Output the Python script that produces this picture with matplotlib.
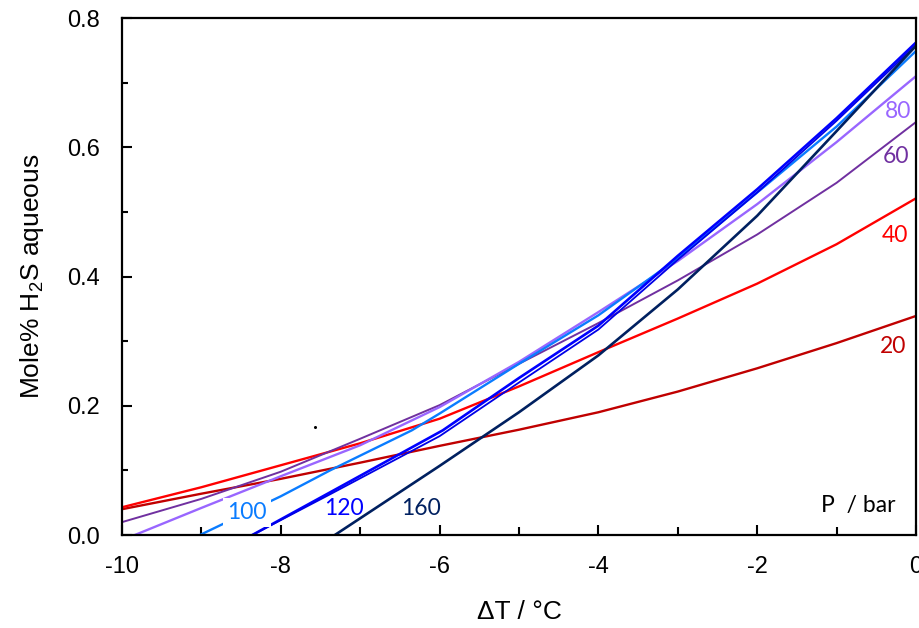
import numpy as np
import matplotlib.pyplot as plt

plt.rcParams['font.family'] = ['Liberation Sans', 'DejaVu Sans']
plt.rcParams['mathtext.default'] = 'regular'

# Mole% H2S in the aqueous phase vs. subcooling, one curve per pressure (bar)
dT = [-10, -9, -8, -7, -6, -5, -4, -3, -2, -1, 0]

x_20 = dT
y_20 = [0.040, 0.064, 0.087, 0.112, 0.138, 0.163, 0.190, 0.222, 0.258, 0.297, 0.339]

x_40 = dT
y_40 = [0.043, 0.074, 0.108, 0.142, 0.180, 0.230, 0.283, 0.335, 0.389, 0.450, 0.521]

x_60 = dT
y_60 = [0.020, 0.056, 0.098, 0.149, 0.201, 0.265, 0.328, 0.394, 0.465, 0.545, 0.639]

x_80 = dT
y_80 = [-0.008, 0.042, 0.091, 0.139, 0.198, 0.268, 0.345, 0.424, 0.512, 0.608, 0.710]

x_100 = [-9.02, -8, -7.38, -6.35, -6, -5, -4, -3, -2, -1, 0]
y_100 = [0.0, 0.060, 0.100, 0.162, 0.188, 0.265, 0.340, 0.428, 0.530, 0.632, 0.749]

x_120 = [-8.36, -7.38, -5.96, -5, -4, -3, -2, -1, 0]
y_120 = [0.0, 0.066, 0.162, 0.243, 0.324, 0.432, 0.535, 0.645, 0.762]

x_140 = [-8.36, -7.38, -6, -5, -4, -3, -2, -1, 0]
y_140 = [0.0, 0.063, 0.153, 0.236, 0.318, 0.426, 0.530, 0.641, 0.758]

x_160 = [-7.32, -6, -5, -4, -3, -2, -1, 0]
y_160 = [0.0, 0.107, 0.190, 0.278, 0.380, 0.494, 0.625, 0.757]

stray_x = [-7.57]
stray_y = [0.167]

fig = plt.figure(figsize=(9.2, 6.28), dpi=100)
ax = fig.add_axes([0.1326, 0.148, 0.863, 0.8233])

ax.plot(x_20, y_20, color='#C00000', lw=1.7)
ax.plot(x_40, y_40, color='#FF0000', lw=1.7)
ax.plot(x_60, y_60, color='#7030A0', lw=1.4)
ax.plot(x_80, y_80, color='#9966FF', lw=1.7)
ax.plot(x_100, y_100, color='#0A7CFF', lw=1.7)
ax.plot(x_120, y_120, color='#0000FF', lw=1.9)
ax.plot(x_140, y_140, color='#0000E6', lw=1.3)
ax.plot(x_160, y_160, color='#002060', lw=1.9)
ax.plot(stray_x, stray_y, 'o', color='black', ms=1.2)

lbl = dict(family=['Lato', 'DejaVu Sans'], fontsize=16.5, ha='center', va='center')
ax.text(-0.23, 0.655, '80', color='#9966FF', **lbl)
ax.text(-0.25, 0.585, '60', color='#7030A0', **lbl)
ax.text(-0.26, 0.464, '40', color='#FF0000', **lbl)
ax.text(-0.29, 0.291, '20', color='#C00000', **lbl)
ax.text(-8.43, 0.035, '100', color='#0A7CFF', zorder=5,
        bbox=dict(boxstyle='square,pad=0.18', fc='white', ec='none'), **lbl)
ax.text(-7.2, 0.041, '120', color='#0000FF', **lbl)
ax.text(-6.24, 0.041, '160', color='#002060', **lbl)
ax.text(-0.73, 0.045, 'P  / bar', color='black', **lbl)

ax.set_xlim(-10, 0)
ax.set_ylim(0, 0.8)
ax.set_xticks(np.arange(-10, 0.1, 2))
ax.set_xticks(np.arange(-9, 0, 2), minor=True)
ax.set_yticks(np.arange(0, 0.81, 0.2))
ax.set_yticks(np.arange(0.1, 0.8, 0.2), minor=True)
ax.set_xticklabels(['-10', '-8', '-6', '-4', '-2', '0'])
ax.set_yticklabels(['0.0', '0.2', '0.4', '0.6', '0.8'])
ax.tick_params(which='both', direction='in', labelsize=17, width=1.5)
ax.tick_params(which='major', length=7)
ax.tick_params(axis='x', which='major', pad=15)
ax.tick_params(axis='y', which='major', pad=16)
ax.tick_params(axis='x', which='minor', length=6)
ax.tick_params(axis='y', which='minor', length=4)
for s in ax.spines.values():
    s.set_linewidth(1.6)

ax.set_xlabel('ΔT / °C', fontsize=19, labelpad=16)
ax.set_ylabel('Mole% H$_2$S aqueous', fontsize=19, labelpad=15)

fig.savefig('out.png', dpi=100)
